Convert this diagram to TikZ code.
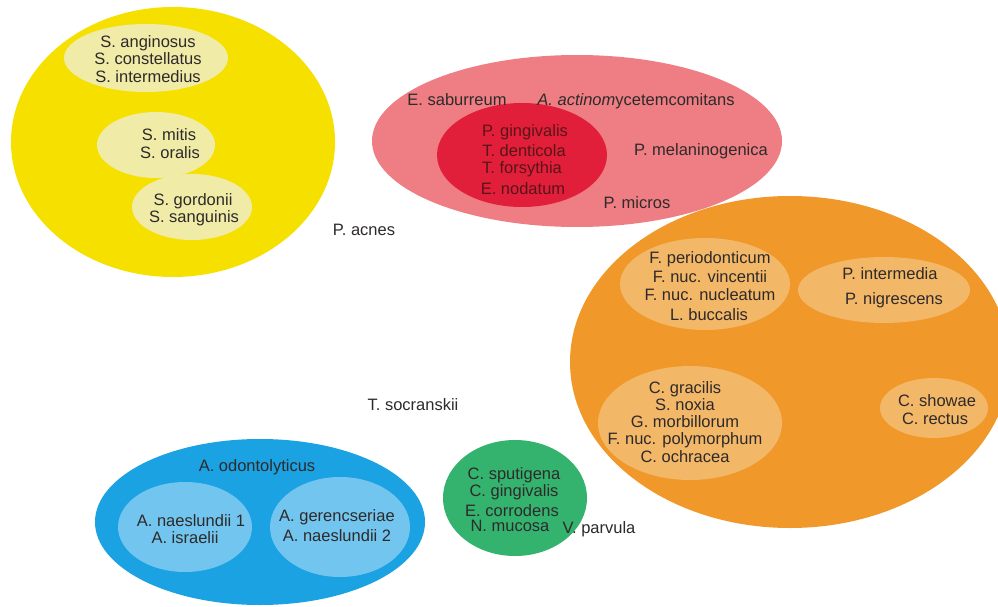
\documentclass[tikz,border=0pt]{standalone}
\usepackage{fontspec}
\setmainfont{Liberation Sans}
\usetikzlibrary{shapes.geometric}
\definecolor{yel}{HTML}{F6E000}
\definecolor{yelpale}{HTML}{F1EBA8}
\definecolor{redout}{HTML}{EE7E83}
\definecolor{redin}{HTML}{E11F3A}
\definecolor{ora}{HTML}{F0992A}
\definecolor{orapale}{HTML}{F3B768}
\definecolor{blu}{HTML}{1BA2E2}
\definecolor{blupale}{HTML}{72C5EE}
\definecolor{grn}{HTML}{34B36F}
\definecolor{txtc}{HTML}{2E2A2A}
\definecolor{txtred}{HTML}{5A1418}
\begin{document}
\begin{tikzpicture}[x=1pt,y=-1pt,
  blob/.style args={#1/#2}{ellipse, inner sep=0pt, draw=none, minimum width=#1pt, minimum height=#2pt},
  lab/.style={anchor=base, inner sep=0pt, font=\fontsize{16.5}{18}\selectfont, text=txtc},
  labin/.style={lab, text=txtred}]
\useasboundingbox (0,0) rectangle (998,607);
\fill[white] (0,0) rectangle (998,607);
\clip (0,0) rectangle (998,607);

% yellow group
\node[blob=324/270, fill=yel] (yellow) at (173,142) {};
\node[blob=164/68, fill=yelpale] (y1) at (146,58) {};
\node[blob=118/66, fill=yelpale] (y2) at (156,145) {};
\node[blob=120/66, fill=yelpale] (y3) at (192,207) {};
\node[lab] (sang) at (148,48) {S. anginosus};
\node[lab] (scon) at (148,65) {S. constellatus};
\node[lab] (sint) at (148,83) {S. intermedius};
\node[lab] (smit) at (169,141) {S. mitis};
\node[lab] (sora) at (170,158) {S. oralis};
\node[lab] (sgor) at (193,205) {S. gordonii};
\node[lab] (ssan) at (194,222) {S. sanguinis};

% red group
\node[blob=410/172, fill=redout] (red) at (577,141) {};
\node[blob=170/104, fill=redin] (redinner) at (522,155) {};
\node[lab] (esab) at (457,106) {E. saburreum};
\node[lab] (aact) at (636,106) {\textit{A. actinom}ycetemcomitans};
\node[labin] (pgin) at (525,136) {P. gingivalis};
\node[labin] (tden) at (524,157) {T. denticola};
\node[labin] (tfor) at (522,173) {T. forsythia};
\node[labin] (enod) at (523,194) {E. nodatum};
\node[lab] (pmel) at (701,155) {P. melaninogenica};
\node[lab] (pmic) at (637,208) {P. micros};

% loose labels
\node[lab] (pacn) at (364,235) {P. acnes};
\node[lab] (tsoc) at (413,410) {T. socranskii};

% orange group
\node[blob=440/332, fill=ora] (orange) at (790,362) {};
\node[blob=170/92, fill=orapale] (o1) at (705,284) {};
\node[blob=172/66, fill=orapale] (o2) at (884,290) {};
\node[blob=184/114, fill=orapale] (o3) at (690,423) {};
\node[blob=108/60, fill=orapale] (o4) at (934,408) {};
\node[lab] (fper) at (710,263) {F. periodonticum};
\node[lab] (fvin) at (710,282) {F. nuc. vincentii};
\node[lab] (fnuc) at (710,300) {F. nuc. nucleatum};
\node[lab] (lbuc) at (709,320) {L. buccalis};
\node[lab] (pint) at (890,279) {P. intermedia};
\node[lab] (pnig) at (894,304) {P. nigrescens};
\node[lab] (cgra) at (685,393) {C. gracilis};
\node[lab] (snox) at (685,410) {S. noxia};
\node[lab] (gmor) at (685,427) {G. morbillorum};
\node[lab] (fpol) at (685,444) {F. nuc. polymorphum};
\node[lab] (coch) at (685,462) {C. ochracea};
\node[lab] (csho) at (937,406) {C. showae};
\node[lab] (crec) at (935,424) {C. rectus};

% blue group
\node[blob=330/166, fill=blu] (blue) at (260,522) {};
\node[blob=134/90, fill=blupale] (b1) at (185,527) {};
\node[blob=140/100, fill=blupale] (b2) at (340,527) {};
\node[lab] (aodo) at (257,471) {A. odontolyticus};
\node[lab] (anae1) at (191,526) {A. naeslundii 1};
\node[lab] (aisr) at (185,543) {A. israelii};
\node[lab] (ager) at (337,521) {A. gerencseriae};
\node[lab] (anae2) at (337,541) {A. naeslundii 2};

% green group
\node[blob=144/116, fill=grn] (green) at (515,498) {};
\node[lab] (cspu) at (514,479) {C. sputigena};
\node[lab] (cgin) at (514,496) {C. gingivalis};
\node[lab] (ecor) at (512,516) {E. corrodens};
\node[lab] (nmuc) at (510,531) {N. mucosa};
\node[lab] (vpar) at (599,533) {V. parvula};
\end{tikzpicture}
\end{document}
